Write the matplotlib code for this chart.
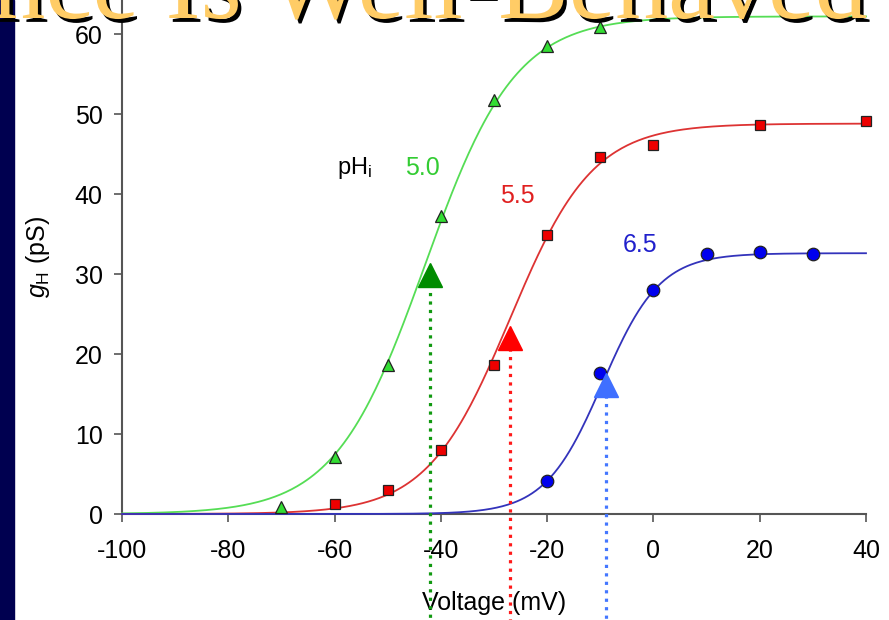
import numpy as np
import matplotlib
matplotlib.use("Agg")
import matplotlib.pyplot as plt
import matplotlib.patheffects as pe
from matplotlib.patches import Rectangle

plt.rcParams['font.family'] = ['Liberation Sans', 'DejaVu Sans']
plt.rcParams['mathtext.fontset'] = 'custom'
plt.rcParams['mathtext.rm'] = 'Liberation Sans'
plt.rcParams['mathtext.it'] = 'Liberation Sans:italic'
plt.rcParams['axes.unicode_minus'] = False

# measured points (voltage in mV, conductance in pS)
v_50 = [-70, -60, -50, -40, -30, -20, -10]
g_50 = [0.9, 7.1, 18.6, 37.2, 51.7, 58.5, 60.9]
v_55 = [-60, -50, -40, -30, -20, -10, 0, 20, 40]
g_55 = [1.25, 3.0, 8.0, 18.6, 34.9, 44.6, 46.1, 48.6, 49.1]
v_65 = [-20, -10, 0, 10, 20, 30]
g_65 = [4.1, 17.6, 28.0, 32.5, 32.75, 32.5]

# Boltzmann fit parameters
gmax = [62.2, 48.8, 32.6]
vhalf = [-43.0, -27.0, -9.6]
slope = [8.5, 7.8, 5.4]

# arrows marking V1/2
arrow_v = [-42.0, -27.0, -8.9]
arrow_g = [29.9, 22.0, 16.1]

labels = ["5.0", "5.5", "6.5"]
label_pos = [(-43.5, 43.25), (-25.7, 39.75), (-2.5, 33.6)]

fig = plt.figure(figsize=(8.89, 6.2), dpi=100)
fig.patches.append(Rectangle((0, 0), 14 / 889, 1, transform=fig.transFigure,
                             color='#000050', zorder=0))

ax = fig.add_axes([122 / 889, 1 - 514 / 620, 744 / 889, 514 / 620])
ax.set_xlim(-100, 40)
ax.set_ylim(0, 64.25)

line_cols = ['#55dd55', '#dd3333', '#3333bb']
mark_cols = ['#33dd33', '#ee0000', '#0000ee']
text_cols = ['#33cc33', '#e02020', '#2020cc']
markers = ['^', 's', 'o']
msizes = [8, 7.5, 9]
arrow_cols = ['#008c00', '#ff0000', '#3f6fff']
dot_cols = ['#119911', '#ff1a1a', '#4477ff']

vv = np.linspace(-100, 40, 400)
pts = [(v_50, g_50), (v_55, g_55), (v_65, g_65)]
for i in range(3):
    fit = gmax[i] / (1 + np.exp((vhalf[i] - vv) / slope[i]))
    ax.plot(vv, fit, color=line_cols[i], lw=1.3, zorder=3, clip_on=False)
    ax.plot(pts[i][0], pts[i][1], linestyle='none', marker=markers[i],
            ms=msizes[i], mfc=mark_cols[i], mec='#222222', mew=0.9,
            zorder=4, clip_on=False)
    # dotted drop line from arrow to the bottom of the slide
    ax.plot([arrow_v[i], arrow_v[i]], [arrow_g[i] - 1.2, -13.5], ls=':',
            lw=2.3, color=dot_cols[i], clip_on=False, zorder=5)
    ax.plot(arrow_v[i], arrow_g[i], marker='^', ms=17, color=arrow_cols[i],
            linestyle='none', zorder=6, clip_on=False)
    ax.text(label_pos[i][0], label_pos[i][1], labels[i], color=text_cols[i],
            fontsize=18, ha='center', va='center')

ax.text(-56.2, 43.25, "pH$_{\\mathrm{i}}$", fontsize=17, ha='center', va='center')

for s in ['top', 'right']:
    ax.spines[s].set_visible(False)
for s in ['left', 'bottom']:
    ax.spines[s].set_color('#555555')
    ax.spines[s].set_linewidth(1.5)

ax.set_xticks(range(-100, 41, 20))
ax.set_yticks(range(0, 61, 10))
ax.tick_params(direction='out', length=6, width=1.2, color='#555555',
               labelsize=18)
ax.tick_params(axis='x', pad=12)
ax.tick_params(axis='y', pad=8)
ax.set_xlabel("Voltage (mV)", fontsize=18, labelpad=20)
ax.set_ylabel("$g_{\\mathrm{H}}$ (pS)", fontsize=18, labelpad=16)

fig.text(867 / 889, 1 - 18 / 620, "nce Is Well-Behaved", fontsize=76,
         family='Liberation Serif', color='#ffcc66', ha='right', va='baseline',
         path_effects=[pe.withSimplePatchShadow(offset=(2.5, -2.8),
                                               shadow_rgbFace='black', alpha=1)])

fig.savefig("out.png", dpi=100)
